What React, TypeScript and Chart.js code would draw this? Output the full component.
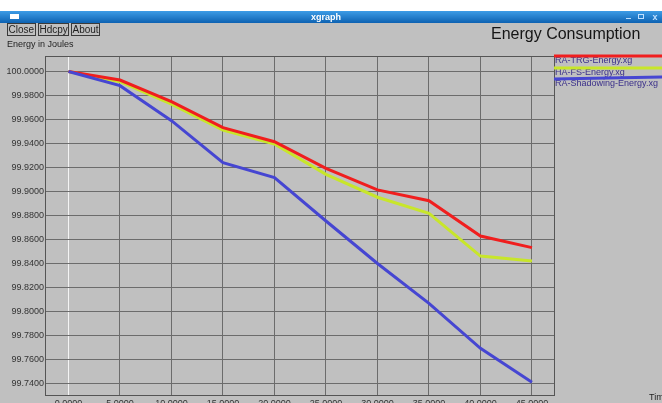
import React, { useEffect, useRef } from "react";
import { Chart, registerables } from "chart.js";

Chart.register(...registerables);

const times = [0, 5, 10, 15, 20, 25, 30, 35, 40, 45];
const trgEnergy = [100.0, 99.9929, 99.9749, 99.9532, 99.9415, 99.9193, 99.9013, 99.8923, 99.8629, 99.8532];
const fsEnergy = [100.0, 99.9915, 99.9727, 99.9512, 99.9396, 99.9143, 99.8952, 99.8818, 99.8462, 99.8421];
const shadowEnergy = [100.0, 99.9882, 99.959, 99.924, 99.9115, 99.8754, 99.84, 99.8068, 99.7693, 99.741];
const seriesNames = ["RA-TRG-Energy.xg", "HA-FS-Energy.xg", "RA-Shadowing-Energy.xg"];
const seriesColors = ["#f01e1e", "#c8e62a", "#4646d2"];
const xTicks = [0, 5, 10, 15, 20, 25, 30, 35, 40, 45];
const yTicks = [99.74, 99.76, 99.78, 99.8, 99.82, 99.84, 99.86, 99.88, 99.9, 99.92, 99.94, 99.96, 99.98, 100.0];
const buttons = ["Close", "Hdcpy", "About"];

const FONT = "'Liberation Sans', Arial, sans-serif";
const BG = "#c0c0c0";

const chromePlugin = {
  id: "xgraphChrome",
  beforeDraw(chart: any) {
    const ctx = chart.ctx;
    const W = chart.width;
    const H = chart.height;
    ctx.save();
    ctx.fillStyle = BG;
    ctx.fillRect(0, 0, W, H);
    // white strip on top
    ctx.fillStyle = "#ffffff";
    ctx.fillRect(0, 0, W, 11);
    // title bar
    const g = ctx.createLinearGradient(0, 11, 0, 23);
    g.addColorStop(0, "#3d9ce6");
    g.addColorStop(1, "#0d62b2");
    ctx.fillStyle = g;
    ctx.fillRect(0, 11, W, 12);
    ctx.fillStyle = "#ffffff";
    ctx.fillRect(10, 14, 9, 5);
    ctx.font = "bold 9px " + FONT;
    ctx.textAlign = "center";
    ctx.textBaseline = "alphabetic";
    ctx.fillText("xgraph", 326, 20);
    ctx.fillStyle = "#bfe0ff";
    ctx.fillRect(626, 18, 5, 1);
    ctx.strokeStyle = "#bfe0ff";
    ctx.lineWidth = 1;
    ctx.strokeRect(638.5, 14.5, 5, 4);
    ctx.font = "bold 9px " + FONT;
    ctx.fillText("x", 655, 20);
    // buttons
    ctx.font = "10px " + FONT;
    ctx.textAlign = "left";
    let bx = 7;
    buttons.forEach((b) => {
      const w = Math.round(ctx.measureText(b).width) + 2;
      ctx.strokeStyle = "#3a3a3a";
      ctx.strokeRect(bx + 0.5, 23.5, w, 12);
      ctx.fillStyle = "#1e1e1e";
      ctx.fillText(b, bx + 1.5, 33);
      bx += w + 3;
    });
    // y axis title
    ctx.font = "9px " + FONT;
    ctx.fillStyle = "#1e1e1e";
    ctx.fillText("Energy in Joules", 7, 47);
    // chart title
    ctx.font = "16px " + FONT;
    ctx.fillStyle = "#151515";
    ctx.fillText("Energy Consumption", 491, 39);
    // x axis title (cut off)
    ctx.font = "9px " + FONT;
    ctx.fillStyle = "#1e1e1e";
    ctx.fillText("Time", 649, 400);
    ctx.restore();
  },
  beforeDatasetsDraw(chart: any) {
    const { ctx, chartArea } = chart;
    ctx.save();
    ctx.strokeStyle = "#555555";
    ctx.lineWidth = 1;
    ctx.beginPath();
    ctx.moveTo(chartArea.left, chartArea.top + 0.5);
    ctx.lineTo(chartArea.right + 0.5, chartArea.top + 0.5);
    ctx.lineTo(chartArea.right + 0.5, chartArea.bottom);
    ctx.stroke();
    ctx.restore();
  },
  afterDraw(chart: any) {
    const ctx = chart.ctx;
    const x0 = chart.chartArea.right;
    const W = chart.width;
    ctx.save();
    ctx.font = "9px " + FONT;
    ctx.textAlign = "left";
    const lineYs = [56, 68, 79];
    const textYs = [63, 75, 86];
    seriesNames.forEach((n, i) => {
      ctx.fillStyle = "#3a2f8a";
      ctx.fillText(n, x0 + 1, textYs[i]);
    });
    seriesNames.forEach((n, i) => {
      ctx.strokeStyle = seriesColors[i];
      ctx.lineWidth = 3;
      ctx.beginPath();
      ctx.moveTo(x0, lineYs[i]);
      ctx.lineTo(W, lineYs[i] - (i === 2 ? 2 : 0));
      ctx.stroke();
    });
    ctx.restore();
  },
};

export default function App() {
  const ref = useRef<HTMLCanvasElement | null>(null);
  useEffect(() => {
    if (!ref.current) return;
    Chart.defaults.font.family = FONT;
    const mk = (vals: number[]) => times.map((t, i) => ({ x: t, y: vals[i] }));
    const chart = new Chart(ref.current, {
      type: "line",
      data: {
        datasets: [
          { label: seriesNames[0], data: mk(trgEnergy), borderColor: seriesColors[0], borderWidth: 3, pointRadius: 0, tension: 0, order: 1 },
          { label: seriesNames[1], data: mk(fsEnergy), borderColor: seriesColors[1], borderWidth: 3, pointRadius: 0, tension: 0, order: 2 },
          { label: seriesNames[2], data: mk(shadowEnergy), borderColor: seriesColors[2], borderWidth: 3, pointRadius: 0, tension: 0, order: 0 },
        ],
      },
      options: {
        animation: false,
        responsive: false,
        devicePixelRatio: 1,
        layout: { padding: { top: 56, right: 108, left: 0, bottom: 0 } },
        plugins: { legend: { display: false }, tooltip: { enabled: false } },
        scales: {
          x: {
            type: "linear",
            min: -2.28,
            max: 47.14,
            afterBuildTicks: (s: any) => {
              s.ticks = xTicks.map((v) => ({ value: v }));
            },
            afterFit: (s: any) => {
              s.height = 25;
            },
            grid: {
              color: (c: any) => (c.tick && c.tick.value === 0 ? "#f4f4f4" : "#6c6c6c"),
              lineWidth: 1,
              drawTicks: false,
            },
            border: { color: "#555555" },
            ticks: {
              font: { size: 9, family: FONT },
              color: "#333333",
              padding: 3,
              maxRotation: 0,
              autoSkip: false,
              callback: (v: any) => Number(v).toFixed(4),
            },
          },
          y: {
            type: "linear",
            min: 99.7304,
            max: 100.0129,
            afterBuildTicks: (s: any) => {
              s.ticks = yTicks.map((v) => ({ value: v }));
            },
            afterFit: (s: any) => {
              s.width = 45;
            },
            grid: { color: "#6c6c6c", lineWidth: 1, drawTicks: false },
            border: { color: "#555555" },
            ticks: {
              font: { size: 9, family: FONT },
              color: "#333333",
              padding: 1,
              autoSkip: false,
              callback: (v: any) => Number(v).toFixed(4),
            },
          },
        },
      },
      plugins: [chromePlugin],
    } as any);
    return () => chart.destroy();
  }, []);
  return (
    <div style={{ position: "fixed", left: 0, top: 0, width: 662, height: 403, overflow: "hidden", background: BG }}>
      <canvas ref={ref} width={662} height={420} style={{ display: "block", width: 662, height: 420 }} />
    </div>
  );
}
